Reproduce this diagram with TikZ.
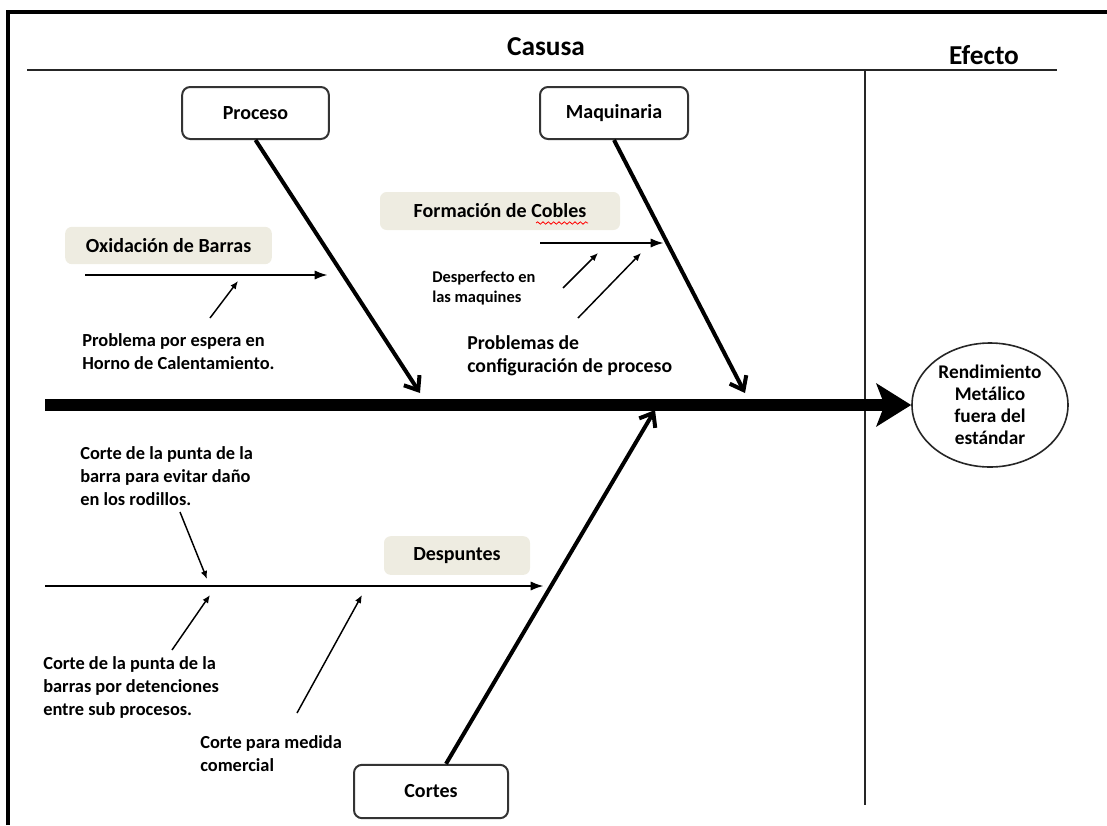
\documentclass[tikz,border=0pt]{standalone}
\usepackage{fontspec}
\setmainfont{Carlito}
\usetikzlibrary{arrows.meta,calc,shapes.geometric,decorations.pathmorphing}

\begin{document}
\begin{tikzpicture}[x=0.75pt,y=-0.75pt,
  catbox/.style={draw=black!80, line width=1.5pt, rounded corners=6pt, fill=white,
    inner sep=0pt, font=\fontsize{15pt}{18pt}\selectfont\bfseries},
  subbox/.style={fill=tan, rounded corners=5pt, inner sep=0pt,
    font=\fontsize{15pt}{18pt}\selectfont\bfseries},
  note/.style={inner sep=0pt, anchor=west, align=left,
    font=\fontsize{13.8pt}{17.25pt}\selectfont\bfseries},
  title/.style={inner sep=0pt, font=\fontsize{20.5pt}{24pt}\selectfont\bfseries},
  spine/.style={line width=9pt, -{Stealth[length=26pt,width=32pt,inset=6pt]}},
  bone/.style={line width=3pt, -{Straight Barb[length=9pt,width=14pt]}},
  sub/.style={line width=1.9pt, -{Latex[length=10pt,width=7pt]}},
  ptr/.style={line width=1.1pt, -{Latex[length=6pt,width=5pt]}},
  rule/.style={line width=1.5pt, draw=black!85}
]
\definecolor{tan}{HTML}{EEECE1}
\useasboundingbox (0,0) rectangle (1107,825);

% page frame
\draw[line width=2.4pt] (8,825) -- (8,12) -- (1107,12);

% header rules and titles
\draw[rule] (27,70) -- (1057,70);
\draw[rule] (865,70) -- (865,805);
\node[title] (causa) at (546,47) {Casusa};
\node[title] (efecto) at (984,55) {Efecto};

% effect
\node[draw=black!85, line width=1.2pt, ellipse, minimum width=117pt, minimum height=93pt,
  inner sep=0pt, align=center, font=\fontsize{14.5pt}{16.5pt}\selectfont\bfseries]
  (eff) at (990,405) {Rendimiento\\Metálico\\fuera del\\estándar};

% main categories
\node[catbox, minimum width=110pt, minimum height=39pt] (proc) at (255.5,113) {Proceso};
\node[catbox, minimum width=111pt, minimum height=39pt] (maq) at (614,113) {Maquinaria};
\node[catbox, minimum width=115.5pt, minimum height=40pt] (cort) at (431,791.5) {Cortes};

% secondary causes
\node[subbox, minimum width=155pt, minimum height=28pt] (oxi) at (168.5,245.5) {Oxidación de Barras};
\node[subbox, minimum width=180pt, minimum height=28.5pt] (form) at (500,211) {Formación de Cobles};
\node[subbox, minimum width=109.5pt, minimum height=29pt] (desp) at (457,555.5) {Despuntes};

% spell-check squiggle under "Cobles"
\draw[red, line width=0.6pt, decorate, decoration={snake, amplitude=0.9pt, segment length=4pt}]
  (536,223) -- (588,223);

% notes
\node[note] (n1) at (82,352) {Problema por espera en\\Horno de Calentamiento.};
\node[note, font=\fontsize{12.3pt}{15pt}\selectfont\bfseries] (n2) at (432,288) {Desperfecto en\\las maquines};
\node[note, font=\fontsize{14.8pt}{17.25pt}\selectfont\bfseries] (n3) at (467,356) {Problemas de\\configuración de proceso};
\node[note] (n4) at (80,476) {Corte de la punta de la\\barra para evitar daño\\en los rodillos.};
\node[note] (n5) at (43,687) {Corte de la punta de la\\barras por detenciones\\entre sub procesos.};
\node[note] (n6) at (200,754) {Corte para medida\\comercial};

% spine
\coordinate (tail) at (45,405);
\draw[spine] (tail) -- (eff.west);

% bones
\coordinate (pEnd) at (420,393);
\coordinate (mEnd) at (745,393);
\coordinate (cEnd) at (655,410);
\draw[bone] (proc.south) -- (pEnd);
\draw[bone] (maq.south) -- (mEnd);
\draw[bone] ($(cort.north)+(15,0)$) -- (cEnd);

% sub-cause lines
\coordinate (oA) at (85,275);  \coordinate (oB) at (328,275);
\coordinate (fA) at (540,243); \coordinate (fB) at (664,243);
\coordinate (dA) at (45,586);  \coordinate (dB) at (544,586);
\draw[sub] (oA) -- (oB);
\draw[sub] (fA) -- (fB);
\draw[sub] (dA) -- (dB);

% pointers from notes
\coordinate (t1) at (238,281);
\coordinate (t2) at (598,253);
\coordinate (t3) at (641,253);
\coordinate (t4) at (207,579);
\coordinate (t5) at (210,595);
\coordinate (t6) at (362,595);
\draw[ptr] (210,318) -- (t1);
\draw[ptr] (563,288) -- (t2);
\draw[ptr] (578,318) -- (t3);
\draw[ptr] (180,512) -- (t4);
\draw[ptr] (172,650) -- (t5);
\draw[ptr] (297,713) -- (t6);
\end{tikzpicture}
\end{document}
